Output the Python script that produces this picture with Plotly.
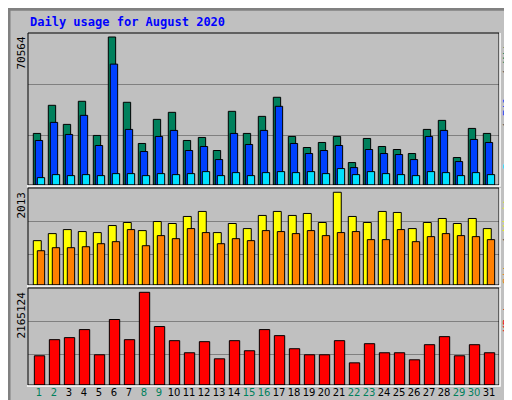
import plotly.graph_objects as go

days = list(range(1, 32))
weekend = [1, 2, 8, 9, 15, 16, 22, 23, 29, 30]

hits = [24586, 37997, 28897, 39913, 23628, 70564, 39434, 19797, 31291, 34644,
        21233, 22670, 16444, 35123, 24586, 32728, 41828, 23149, 17881, 20276,
        23149, 10697, 22191, 18360, 16923, 15007, 26502, 30812, 13091, 26981, 24586]
files = [21233, 29855, 24107, 33207, 18839, 57634, 26502, 15965, 23149, 26023,
         16444, 18360, 12133, 24586, 19318, 26023, 37518, 19797, 15007, 16444,
         18839, 8302, 16923, 15007, 14528, 12133, 23149, 26023, 11176, 21712, 20276]
pages = [3512, 4949, 4470, 4949, 4470, 5428, 5428, 4470, 5428, 4949,
         5428, 6386, 4470, 5907, 4470, 5907, 6386, 5907, 6386, 5428,
         7823, 4949, 6386, 5428, 4949, 4470, 6386, 5907, 4470, 5907, 4949]
visits = [963, 1116, 1203, 1160, 1138, 1291, 1357, 1181, 1378, 1335,
          1488, 1597, 1138, 1335, 1225, 1510, 1597, 1510, 1553, 1357,
          2013, 1488, 1357, 1597, 1575, 1225, 1357, 1444, 1335, 1444, 1225]
sites = [744, 810, 810, 831, 897, 941, 1203, 853, 1072, 1006,
         1225, 1138, 897, 1006, 963, 1181, 1160, 1116, 1181, 1072,
         1138, 1160, 985, 985, 1203, 941, 1050, 1116, 1072, 1050, 985]
kbytes = [682515, 1059075, 1106145, 1294425, 706050, 1529775, 1059075, 2165124,
          1365030, 1035540, 753120, 1011990, 611910, 1035540, 800190, 1294425,
          1153215, 847260, 706050, 706050, 1035540, 517770, 964935, 753120,
          753120, 588375, 941400, 1129680, 682515, 941400, 753120]

W, H = 512, 400
x0, x1 = 20, 491
panels = [(25, 177), (180, 277), (280, 377)]


def ydom(top, bot):
    return [1 - bot / H, 1 - top / H]


fig = go.Figure()
line = dict(color="black", width=1)


def bar(y, color, off, wid, ax):
    fig.add_trace(go.Bar(x=days, y=y, marker=dict(color=color, line=line),
                         offset=off, width=wid, xaxis="x" + ax, yaxis="y" + ax))


bar(hits, "#00805C", -0.38, 0.49, "")
bar(files, "#0040FF", -0.247, 0.49, "")
bar(pages, "#00E0FF", -0.113, 0.49, "")
bar(visits, "#FFFF00", -0.38, 0.53, "2")
bar(sites, "#FF8000", -0.113, 0.49, "2")
bar(kbytes, "#FF0000", -0.31, 0.69, "3")

xr = [1 - 11 / 15, 1 + (x1 - 31) / 15]
xcommon = dict(range=xr, domain=[x0 / W, x1 / W], showgrid=False, zeroline=False,
               fixedrange=True, automargin=False)
ticktext = [("<span style='color:#00805C'>%d</span>" % d) if d in weekend else str(d)
            for d in days]
grid = dict(showgrid=True, gridcolor="#808080", gridwidth=1, showticklabels=False,
            zeroline=False, ticks="", automargin=False)
fig.update_layout(
    width=W, height=H, margin=dict(l=0, r=0, t=0, b=0),
    paper_bgcolor="#C0C0C0", plot_bgcolor="#C0C0C0",
    barmode="overlay", showlegend=False,
    xaxis=dict(xcommon, anchor="y", showticklabels=False),
    xaxis2=dict(xcommon, anchor="y2", showticklabels=False),
    xaxis3=dict(xcommon, anchor="y3", tickvals=days, ticktext=ticktext, tickangle=0,
                tickfont=dict(family="DejaVu Sans", size=10, color="black"), ticks="",
                ticklen=0),
    yaxis=dict(grid, domain=ydom(*panels[0]), range=[0, 72471], tickvals=[23697, 47820]),
    yaxis2=dict(grid, domain=ydom(*panels[1]), range=[0, 2106], tickvals=[667, 1383]),
    yaxis3=dict(grid, domain=ydom(*panels[2]), range=[0, 2265560], tickvals=[717000, 1487800]),
)

shapes = [dict(type="rect", xref="paper", yref="paper", x0=0.002, x1=0.998, y0=0.003, y1=0.997,
               line=dict(color="#808080", width=3))]
for top, bot in panels:
    ya, yb = ydom(top, bot)
    shapes.append(dict(type="rect", xref="paper", yref="paper", x0=x0 / W, x1=x1 / W,
                       y0=ya, y1=yb, line=dict(color="black", width=1)))
    shapes.append(dict(type="path", xref="paper", yref="paper",
                       path="M %f %f L %f %f L %f %f" % ((x0 - 1) / W, ya - 1 / H, (x1 + 1) / W,
                                                         ya - 1 / H, (x1 + 1) / W, yb),
                       line=dict(color="white", width=1.5)))
fig.update_layout(shapes=shapes)

mono = "DejaVu Sans Mono"
ann = [
    dict(text="<b>Daily usage for August 2020</b>", x=20 / W, y=1 - 5 / H, xanchor="left",
         yanchor="top", font=dict(family=mono, size=12, color="#0000FF")),
]
for lab, (top, bot) in zip(["70564", "2013", "2165124"], panels):
    ann.append(dict(text=lab, x=13 / W, y=1 - (top + 2) / H, textangle=-90, xanchor="center",
                    yanchor="top", font=dict(family=mono, size=11, color="black")))
sep = "<span style='color:#404040'> / </span>"
right = [
    "<span style='color:#00E0FF'>Pages</span>" + sep + "<span style='color:#0040FF'>Files</span>"
    + sep + "<span style='color:#00805C'>Hits</span>",
    "<span style='color:#FF8000'>Sites</span>" + sep + "<span style='color:#FFFF00'>Visits</span>",
    "<span style='color:#FF0000'>KBytes</span>",
]
for lab, (top, bot) in zip(right, panels):
    ann.append(dict(text=lab, x=499 / W, y=1 - (top + 2) / H, textangle=-90, xanchor="center",
                    yanchor="top", font=dict(family=mono, size=11)))
for a in ann:
    a.update(xref="paper", yref="paper", showarrow=False)
fig.update_layout(annotations=ann)

fig.write_html("out.html")
